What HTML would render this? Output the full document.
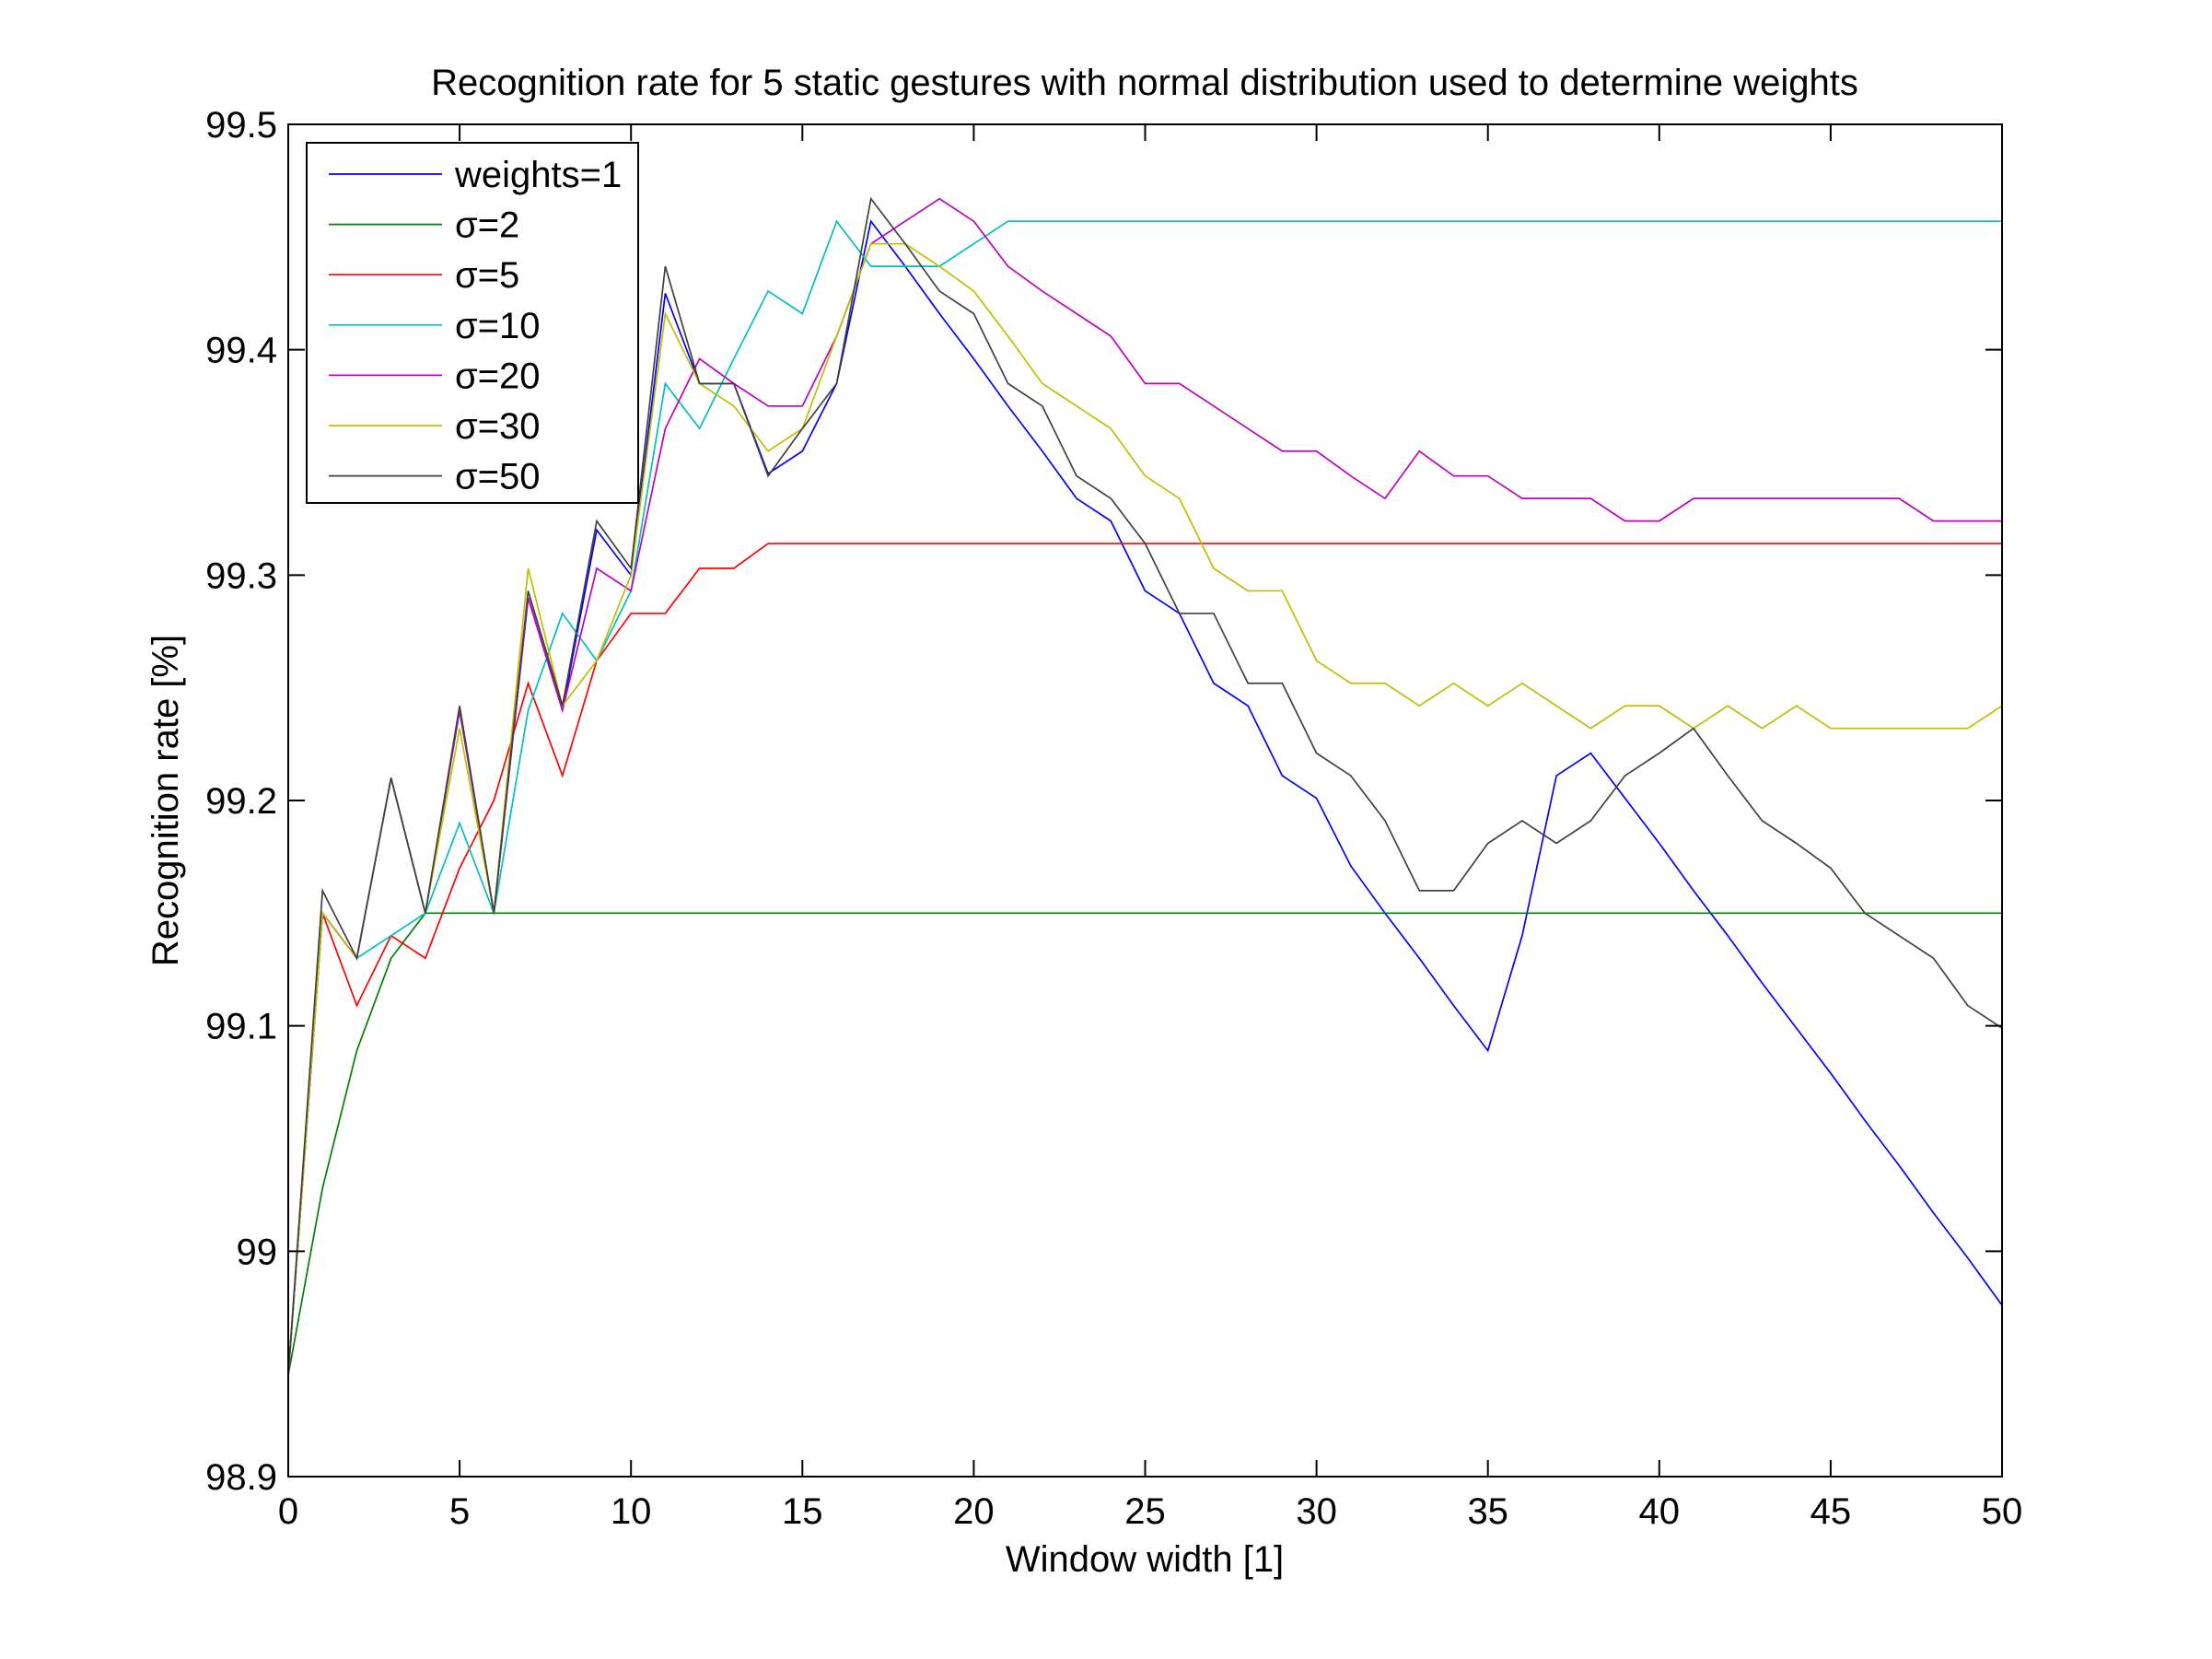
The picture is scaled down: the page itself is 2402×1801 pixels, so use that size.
<!DOCTYPE html>
<html><head><meta charset="utf-8"><style>
html,body{margin:0;padding:0;background:#fff;}
svg{display:block;font-family:"Liberation Sans",Arial,sans-serif;}
</style></head><body>
<svg id="chart" width="2402" height="1801" viewBox="0 0 2402 1801" xmlns="http://www.w3.org/2000/svg">
<rect x="0" y="0" width="2402" height="1801" fill="#fff"/>
<text x="1243" y="103" font-size="40" text-anchor="middle">Recognition rate for 5 static gestures with normal distribution used to determine weights</text>
<text x="1243" y="1706" font-size="40" text-anchor="middle">Window width [1]</text>
<text transform="translate(193,869) rotate(-90)" font-size="40" text-anchor="middle">Recognition rate [%]</text>
<g id="plot"></g>
</svg>
<script>
const xTicks=[0,5,10,15,20,25,30,35,40,45,50];
const yTicks=[98.9,99,99.1,99.2,99.3,99.4,99.5];
const yTickLabels=["98.9","99","99.1","99.2","99.3","99.4","99.5"];
const seriesNames=["weights=1","σ=2","σ=5","σ=10","σ=20","σ=30","σ=50"];
const seriesColors=["#0000ff","#008000","#ff0000","#00bfbf","#bf00bf","#bfbf00","#404040"];
const sWeights1=[98.945,99.15,99.13,99.21,99.15,99.24,99.15,99.29,99.24,99.32,99.30,99.425,99.385,99.385,99.345,99.355,99.385,99.457,99.437,99.416,99.396,99.375,99.355,99.334,99.324,99.293,99.283,99.252,99.242,99.211,99.201,99.171,99.150,99.130,99.109,99.089,99.140,99.211,99.221,99.201,99.181,99.160,99.140,99.119,99.099,99.079,99.058,99.038,99.017,98.997,98.976];
const sSigma2=[98.945,99.028,99.089,99.13,99.15,99.15,99.15,99.15,99.15,99.15,99.15,99.15,99.15,99.15,99.15,99.15,99.15,99.15,99.15,99.15,99.15,99.15,99.15,99.15,99.15,99.15,99.15,99.15,99.15,99.15,99.15,99.15,99.15,99.15,99.15,99.15,99.15,99.15,99.15,99.15,99.15,99.15,99.15,99.15,99.15,99.15,99.15,99.15,99.15,99.15,99.15];
const sSigma5=[98.945,99.15,99.109,99.14,99.13,99.17,99.20,99.252,99.211,99.262,99.283,99.283,99.303,99.303,99.314,99.314,99.314,99.314,99.314,99.314,99.314,99.314,99.314,99.314,99.314,99.314,99.314,99.314,99.314,99.314,99.314,99.314,99.314,99.314,99.314,99.314,99.314,99.314,99.314,99.314,99.314,99.314,99.314,99.314,99.314,99.314,99.314,99.314,99.314,99.314,99.314];
const sSigma10=[98.945,99.15,99.13,99.14,99.15,99.19,99.15,99.24,99.283,99.262,99.293,99.385,99.365,99.396,99.426,99.416,99.457,99.437,99.437,99.437,99.447,99.457,99.457,99.457,99.457,99.457,99.457,99.457,99.457,99.457,99.457,99.457,99.457,99.457,99.457,99.457,99.457,99.457,99.457,99.457,99.457,99.457,99.457,99.457,99.457,99.457,99.457,99.457,99.457,99.457,99.457];
const sSigma20=[98.945,99.15,99.13,99.21,99.15,99.24,99.15,99.29,99.24,99.303,99.293,99.365,99.396,99.385,99.375,99.375,99.406,99.447,99.457,99.467,99.457,99.437,99.426,99.416,99.406,99.385,99.385,99.375,99.365,99.355,99.355,99.344,99.334,99.355,99.344,99.344,99.334,99.334,99.334,99.324,99.324,99.334,99.334,99.334,99.334,99.334,99.334,99.334,99.324,99.324,99.324];
const sSigma30=[98.945,99.15,99.13,99.21,99.15,99.232,99.15,99.303,99.242,99.262,99.30,99.416,99.385,99.375,99.355,99.365,99.406,99.447,99.447,99.437,99.426,99.406,99.385,99.375,99.365,99.344,99.334,99.303,99.293,99.293,99.262,99.252,99.252,99.242,99.252,99.242,99.252,99.242,99.232,99.242,99.242,99.232,99.242,99.232,99.242,99.232,99.232,99.232,99.232,99.232,99.242];
const sSigma50=[98.945,99.16,99.13,99.21,99.15,99.242,99.15,99.293,99.242,99.324,99.303,99.437,99.385,99.385,99.344,99.365,99.385,99.467,99.447,99.426,99.416,99.385,99.375,99.344,99.334,99.314,99.283,99.283,99.252,99.252,99.221,99.211,99.191,99.160,99.160,99.181,99.191,99.181,99.191,99.211,99.221,99.232,99.211,99.191,99.181,99.170,99.150,99.140,99.130,99.109,99.099];
const allSeries=[sWeights1,sSigma2,sSigma5,sSigma10,sSigma20,sSigma30,sSigma50];
const seriesKeys=["weights-1","sigma-2","sigma-5","sigma-10","sigma-20","sigma-30","sigma-50"];

const L=313,R=2174,T=135,B=1603,XMIN=0,XMAX=50,YMIN=98.9,YMAX=99.5;
function xs(v){return L+(v-XMIN)/(XMAX-XMIN)*(R-L);}
function ys(v){return B-(v-YMIN)/(YMAX-YMIN)*(B-T);}
const NS="http://www.w3.org/2000/svg";
const g=document.getElementById('plot');
function mk(tag,attrs,parent){const e=document.createElementNS(NS,tag);for(const k in attrs)e.setAttribute(k,attrs[k]);(parent||g).appendChild(e);return e;}

allSeries.forEach((s,i)=>{
  const pts=s.map((v,j)=>xs(j).toFixed(2)+","+ys(v).toFixed(2)).join(" ");
  const pl=mk('polyline',{points:pts,fill:'none',stroke:seriesColors[i],'stroke-width':1.7,'stroke-linejoin':'miter'});
  
  
});
const box=mk('rect',{x:L,y:T,width:R-L,height:B-T,fill:'none',stroke:'#000','stroke-width':2});


const TL=18;
xTicks.forEach(v=>{
  const x=xs(v);
  const t=mk('path',{d:`M${x},${B}V${B-TL}M${x},${T}V${T+TL}`,stroke:'#000','stroke-width':2});
  
  
  const lb=mk('text',{x:x,y:1654,'font-size':40,'text-anchor':'middle'});
  lb.textContent=String(v);
  
  
});
yTicks.forEach((v,i)=>{
  const y=ys(v);
  const t=mk('path',{d:`M${L},${y}H${L+TL}M${R},${y}H${R-TL}`,stroke:'#000','stroke-width':2});
  
  
  const lb=mk('text',{x:301,y:y+14,'font-size':40,'text-anchor':'end'});
  lb.textContent=yTickLabels[i];
  
  
});
const lg=mk('g',{});


mk('rect',{x:333,y:155,width:360,height:391,fill:'#fff',stroke:'#000','stroke-width':2},lg);
seriesNames.forEach((n,i)=>{
  const y=189+i*54.6;
  const e=mk('g',{},lg);
  
  
  mk('line',{x1:357,x2:480,y1:y,y2:y,stroke:seriesColors[i],'stroke-width':1.7},e);
  const t=mk('text',{x:494,y:y+14,'font-size':40},e);
  t.textContent=n;
});
</script>
</body></html>
